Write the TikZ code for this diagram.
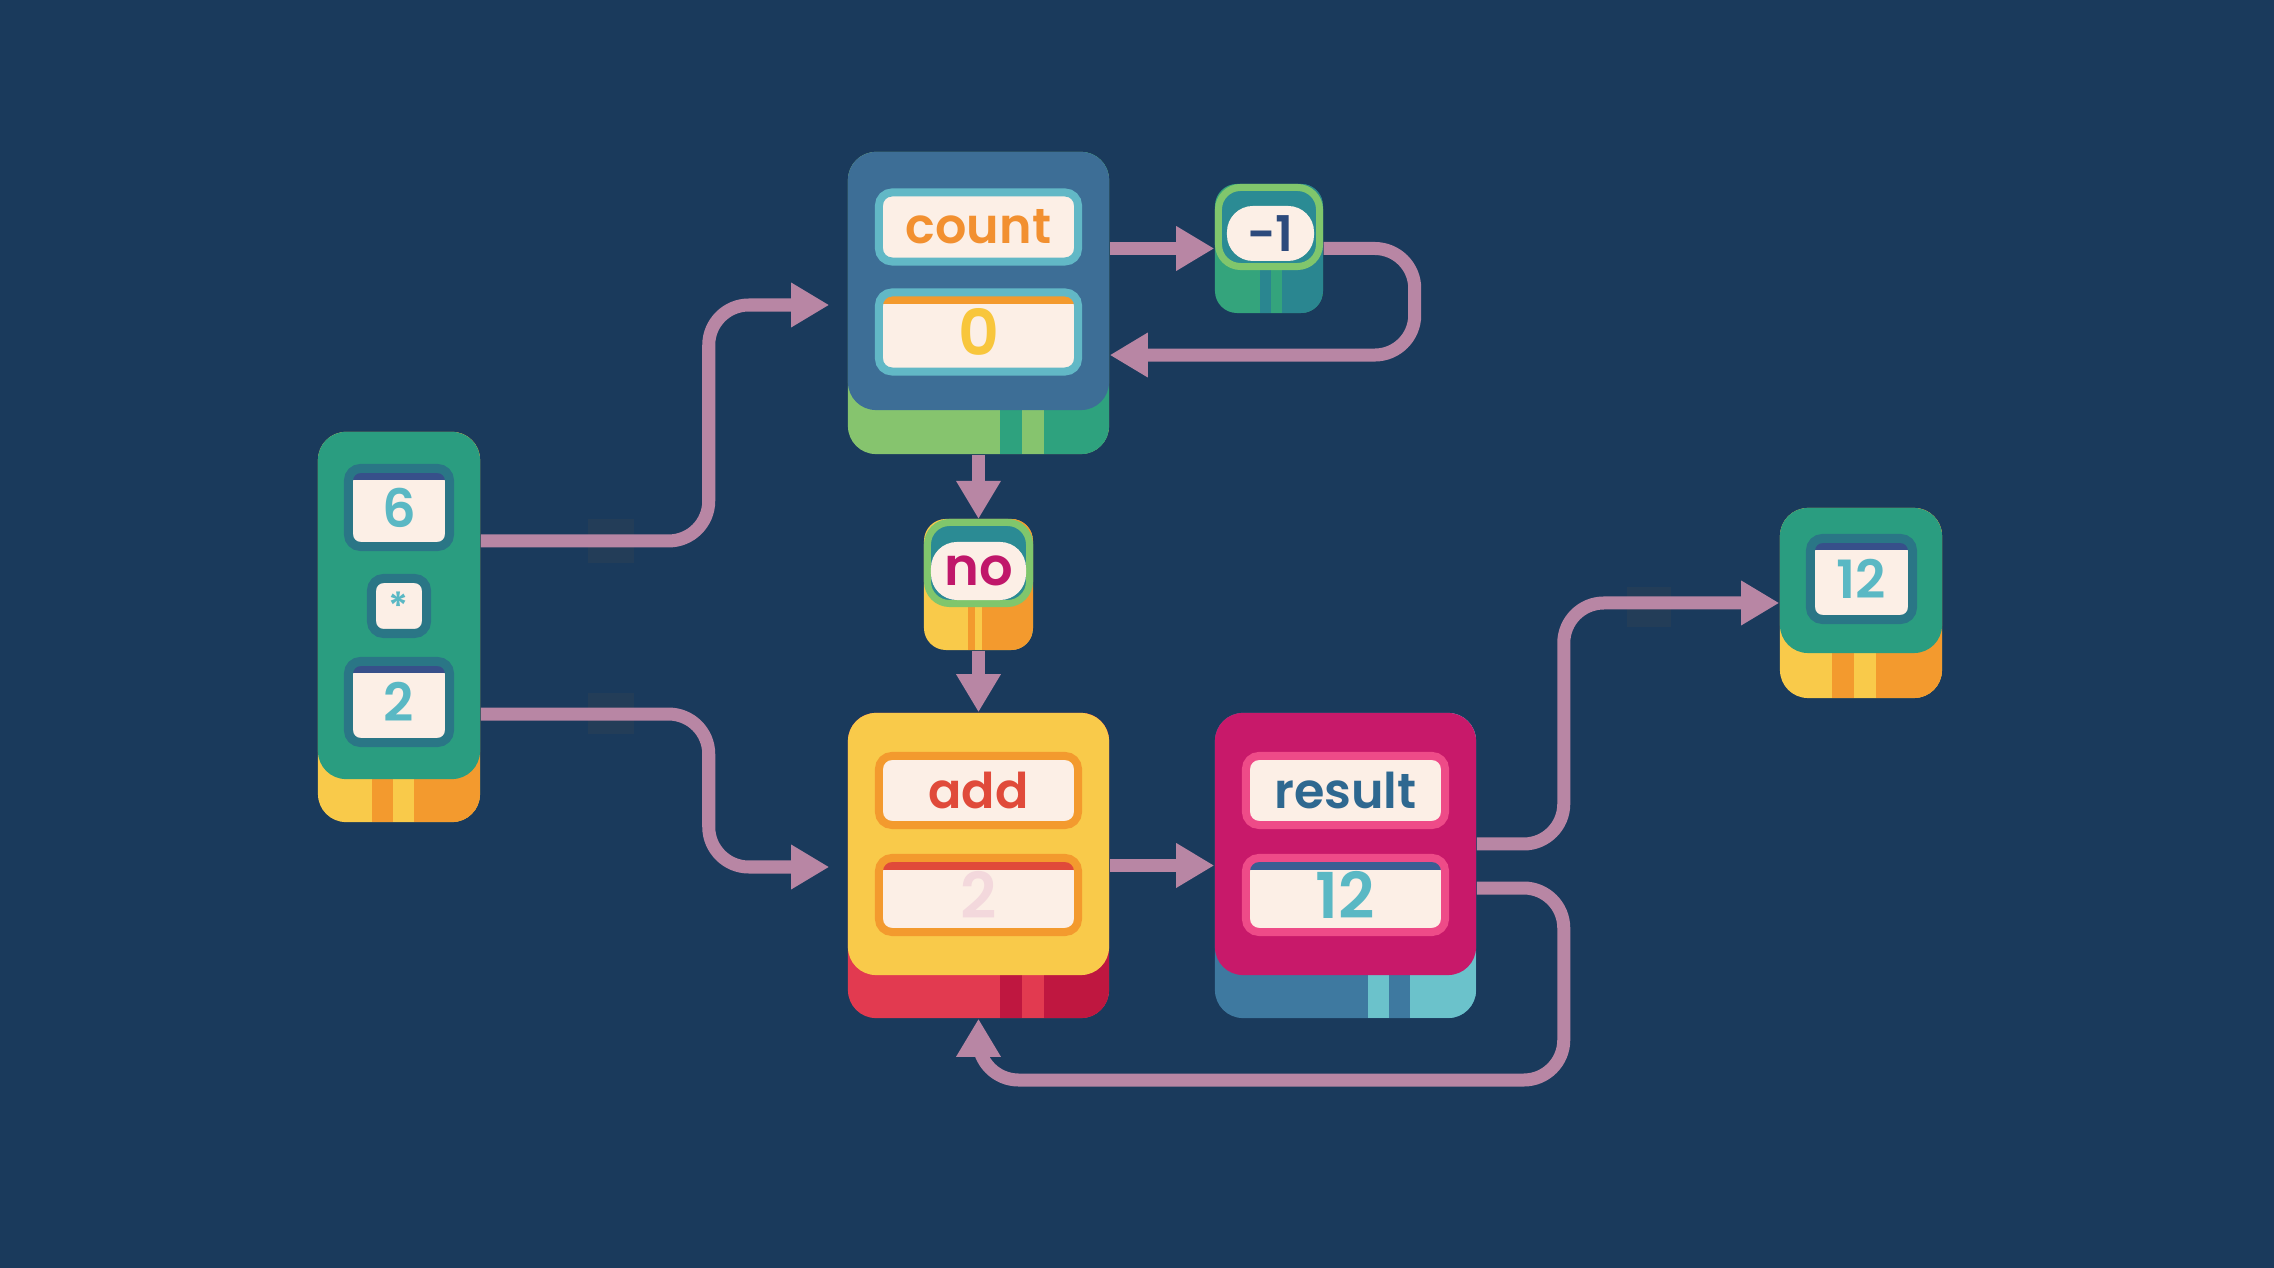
\documentclass[tikz,border=0pt]{standalone}
\usepackage{fontspec}
\setmainfont{Poppins}[BoldFont={Poppins SemiBold}]
\usetikzlibrary{arrows.meta,calc}

\definecolor{bg}{HTML}{1A3A5C}
\definecolor{ghostc}{HTML}{233D58}
\definecolor{wire}{HTML}{B886A4}
\definecolor{steel}{HTML}{3D6E96}
\definecolor{lgrn}{HTML}{86C46E}
\definecolor{dgrn}{HTML}{2EA27E}
\definecolor{grn}{HTML}{2A9D80}
\definecolor{cream}{HTML}{FCEFE6}
\definecolor{tealtg}{HTML}{62B8C6}
\definecolor{tealdk}{HTML}{2A7686}
\definecolor{navy}{HTML}{37508A}
\definecolor{orng}{HTML}{F39A2E}
\definecolor{cnttxt}{HTML}{F29030}
\definecolor{yel}{HTML}{F9CA4A}
\definecolor{zerotxt}{HTML}{F8C63C}
\definecolor{pgrn}{HTML}{80C66C}
\definecolor{pteal}{HTML}{2B8B94}
\definecolor{ngrn}{HTML}{34A47C}
\definecolor{nteal}{HTML}{2A8690}
\definecolor{redl}{HTML}{E23A50}
\definecolor{crim}{HTML}{BF1740}
\definecolor{redtxt}{HTML}{E04A3A}
\definecolor{faint}{HTML}{F3D8DC}
\definecolor{mag}{HTML}{C8196A}
\definecolor{magtxt}{HTML}{C0176A}
\definecolor{pinkol}{HTML}{EE4B88}
\definecolor{rblue}{HTML}{3E79A0}
\definecolor{rteal}{HTML}{6BC2CB}
\definecolor{stltxt}{HTML}{2E6890}
\definecolor{tealtxt}{HTML}{5AB8C4}
\definecolor{navytxt}{HTML}{2C4A7C}
\definecolor{bstrip}{HTML}{3A5E93}

\begin{document}
\begin{tikzpicture}[x=0.01cm, y=-0.01cm,
        blockbase/.style n args = {4}{rectangle, rounded corners=0.28cm, inner sep=0pt, fill=#1,
            path picture={
                \fill[#2, sharp corners] ($(path picture bounding box.north west)+(#3,0)$) rectangle ($(path picture bounding box.south west)+(#3+#4,0)$);
                \fill[#2, sharp corners] ($(path picture bounding box.north west)+(#3+2*#4,0)$) rectangle (path picture bounding box.south east);}},
        blocktop/.style = {rectangle, rounded corners=0.28cm, inner sep=0pt, minimum width=2.61cm},
        pilltop/.style = {rectangle, rounded corners=0.22cm, inner sep=0pt, fill=pteal, draw=pgrn, line width=0.07cm},
        pill/.style = {rectangle, rounded corners=0.26cm, inner sep=0pt, fill=cream, font=\fontsize{14}{16}\selectfont\bfseries},
        tag/.style = {rectangle, rounded corners=0.13cm, inner sep=0pt, fill=cream, line width=0.08cm, minimum width=1.99cm, minimum height=0.69cm, font=\fontsize{14}{16}\selectfont\bfseries},
        cell/.style = {rectangle, rounded corners=0.12cm, inner sep=0pt, fill=cream, draw=tealdk, line width=0.09cm, text=tealtxt, font=\fontsize{15}{17}\selectfont\bfseries},
        strip/.style = {path picture={\fill[#1, sharp corners] (path picture bounding box.north west) rectangle ([yshift=-0.12cm]path picture bounding box.north east);}},
        valfont/.style = {font=\fontsize{18}{20}\selectfont\bfseries},
        ghost/.style = {rectangle, inner sep=0pt, fill=ghostc},
        wire/.style = {draw=wire, line width=0.13cm, rounded corners=0.4cm, -{Triangle[length=0.38cm, width=0.42cm]}}
    ]
        % Background
        \fill[bg] (0,0) rectangle (2274,1268);
        \useasboundingbox (0,0) rectangle (2274,1268);

        % Faint marks under the wires
        \node[ghost, minimum width=0.46cm, minimum height=0.44cm] (g1) at (611,541) {};
        \node[ghost, minimum width=0.46cm, minimum height=0.41cm] (g2) at (611,713.5) {};
        \node[ghost, minimum width=0.44cm, minimum height=0.40cm] (g3) at (1649,607) {};

        % Left: input 6 * 2
        \node[blockbase={yel}{orng}{54}{21}, minimum width=1.62cm, minimum height=3.90cm] (inbase) at (399,627) {};
        \node[blocktop, fill=grn, minimum width=1.62cm, minimum height=3.47cm] (in) at (399,605.5) {};
        \node[cell, strip=navy, minimum width=1.01cm, minimum height=0.78cm] (six) at (399,507.5) {6};
        \node[cell, minimum size=0.55cm, font=\fontsize{11}{12}\selectfont\bfseries] (op) at (399,606) {*};
        \node[cell, strip=navy, minimum width=1.01cm, minimum height=0.81cm] (two) at (399,702) {2};

        % Top: count
        \node[blockbase={lgrn}{dgrn}{152}{22}, minimum width=2.61cm, minimum height=3.02cm] (countbase) at (978.5,303) {};
        \node[blocktop, fill=steel, minimum height=2.58cm] (count) at (978.5,281) {};
        \node[tag, draw=tealtg, text=cnttxt] (countlbl) at (978.5,227) {count};
        \node[tag, draw=tealtg, strip=orng, minimum height=0.79cm, valfont, text=zerotxt] (countval) at (978.5,332) {0};

        % Decrement -1
        \node[blockbase={ngrn}{nteal}{45}{11}, rounded corners=0.22cm, minimum width=1.08cm, minimum height=1.29cm] (negbase) at (1269,248.5) {};
        \node[pilltop, minimum width=1.01cm, minimum height=0.79cm] (neg) at (1269,227) {};
        \node[pill, minimum width=0.87cm, minimum height=0.55cm, text=navytxt] (negval) at (1270.5,233.5) {-1};

        % Test: no
        \node[blockbase={yel}{orng}{44}{7}, rounded corners=0.22cm, minimum width=1.09cm, minimum height=1.31cm] (nobase) at (978.5,584.5) {};
        \node[pilltop, minimum width=1.02cm, minimum height=0.81cm] (no) at (978.5,563) {};
        \node[pill, minimum width=0.95cm, minimum height=0.58cm, text=magtxt, font=\fontsize{15}{17}\selectfont\bfseries] (noval) at (978.5,571) {no};

        % Bottom: add
        \node[blockbase={redl}{crim}{152}{22}, minimum width=2.61cm, minimum height=3.05cm] (addbase) at (978.5,865.5) {};
        \node[blocktop, fill=yel, minimum height=2.62cm] (add) at (978.5,844) {};
        \node[tag, draw=orng, text=redtxt] (addlbl) at (978.5,790.5) {add};
        \node[tag, draw=orng, strip=redtxt, minimum height=0.74cm, valfont, text=faint] (addval) at (978.5,895) {2};

        % Bottom: result
        \node[blockbase={rblue}{rteal}{153}{21}, minimum width=2.61cm, minimum height=3.05cm] (resultbase) at (1345.5,865.5) {};
        \node[blocktop, fill=mag, minimum height=2.62cm] (result) at (1345.5,844) {};
        \node[tag, draw=pinkol, text=stltxt] (resultlbl) at (1345.5,790.5) {result};
        \node[tag, draw=pinkol, strip=bstrip, minimum height=0.74cm, valfont, text=tealtxt] (resultval) at (1345.5,895) {12};

        % Right: output 12
        \node[blockbase={yel}{orng}{52}{22}, minimum width=1.62cm, minimum height=1.90cm] (outbase) at (1861,603) {};
        \node[blocktop, fill=grn, minimum width=1.62cm, minimum height=1.45cm] (out) at (1861,580.5) {};
        \node[cell, strip=navy, minimum width=1.02cm, minimum height=0.81cm] (outval) at (1861.5,579) {12};

        % Wires from the input
        \draw[wire, shorten >=0.18cm] ([yshift=0.645cm]in.east) -- ++(228,0) |- ([yshift=-0.24cm]count.west);
        \draw[wire, shorten >=0.18cm] ([yshift=-1.085cm]in.east) -- ++(228,0) |- ([yshift=-0.23cm]add.west);

        % Count loop
        \draw[wire] (count.east |- negbase.west) -- (negbase.west);
        \draw[wire] (negbase.east) -- ++(91,0) |- ([yshift=-0.74cm]count.east);
        \draw[wire] (countbase.south) -- (no.north);
        \draw[wire] (nobase.south) -- (add.north);

        % Add and result
        \draw[wire] (addbase.east) -- (resultbase.west);
        \draw[wire] (result.east) -- ++(87,0) |- (outbase.west);
        \draw[wire] ([yshift=-0.44cm]result.east) -- ++(87,0) -- ++(0,192) -| (addbase.south);

    \end{tikzpicture}
\end{document}
